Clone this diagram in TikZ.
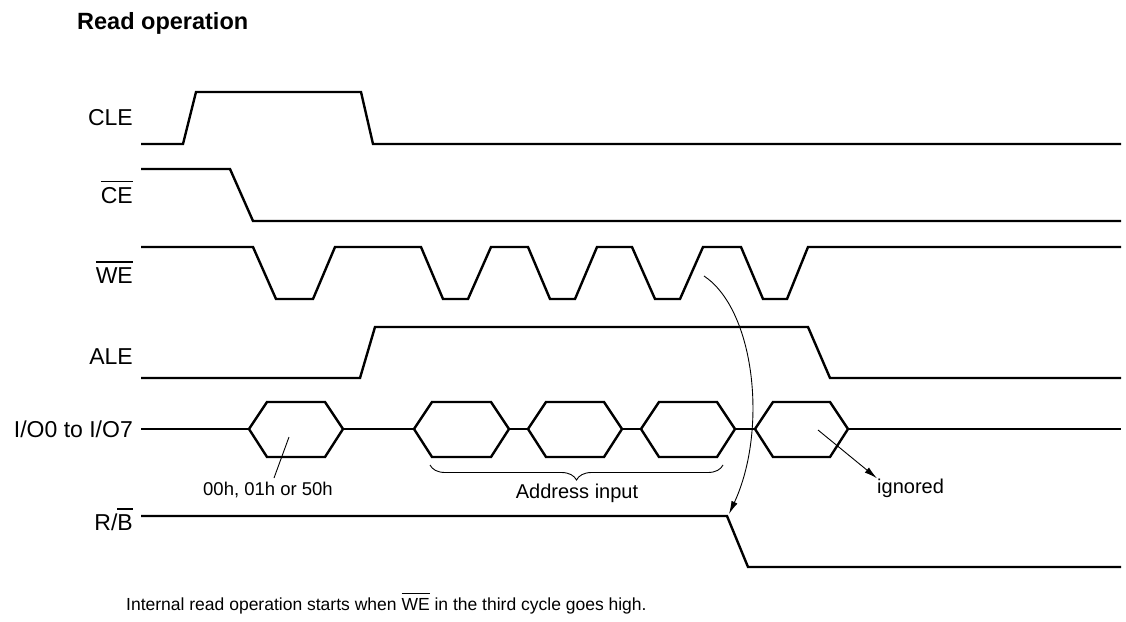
\documentclass[tikz,border=0pt]{standalone}
\usepackage{fontspec}
\setmainfont{Liberation Sans}
\usetikzlibrary{decorations.pathreplacing,arrows.meta}
\newcommand\barred[2][4.5pt]{\vbox{\hrule height 1.3pt\kern #1\hbox{#2}}}
\begin{document}
\begin{tikzpicture}[x=1pt,y=-1pt,
  sig/.style={line width=2.4pt, line join=miter},
  ann/.style={line width=0.9pt},
  tip/.style={-{Latex[length=13pt,width=6.5pt]}},
  lbl/.style={font=\fontsize{23}{27}\selectfont, anchor=base east, inner sep=0pt},
  note/.style={font=\fontsize{20}{24}\selectfont, inner sep=0pt}]
\useasboundingbox (0,0) rectangle (1126,621);

% title
\node[anchor=base west, inner sep=0pt, font=\fontsize{23.5}{28}\selectfont\bfseries] (title) at (77,29) {Read operation};

% signal labels
\node[lbl] (lcle) at (133,125) {CLE};
\node[lbl] (lce)  at (133,203) {\barred{CE}};
\node[lbl] (lwe)  at (133,283) {\barred{WE}};
\node[lbl] (lale) at (133,364) {ALE};
\node[lbl] (lio)  at (133,437) {I/O0 to I/O7};
\node[lbl] (lrb)  at (133,530) {R/\barred{B}};

% CLE
\draw[sig] (141,144) -- (183,144) -- (196,92) -- (361,92) -- (373,144) -- (1121,144);
% CE
\draw[sig] (141,169) -- (230,169) -- (253,221) -- (1121,221);
% WE
\draw[sig] (141,247) -- (253,247) -- (276,299) -- (313,299) -- (335,247)
  -- (421,247) -- (443,299) -- (468,299) -- (491,247)
  -- (528,247) -- (550,299) -- (575,299) -- (597,247)
  -- (632,247) -- (655,299) -- (680,299) -- (703,247)
  -- (741,247) -- (763,299) -- (787,299) -- (808,247) -- (1121,247);
% ALE
\draw[sig] (141,378) -- (360,378) -- (375,327) -- (808,327) -- (830,378) -- (1121,378);
% I/O bus
\draw[sig] (141,429) -- (249,429);
\draw[sig] (249,429) -- (267,402) -- (325,402) -- (343,429) -- (325,457) -- (267,457) -- cycle;
\draw[sig] (343,429) -- (414,429);
\draw[sig] (414,429) -- (432,402) -- (491,402) -- (509,429) -- (491,457) -- (432,457) -- cycle;
\draw[sig] (509,429) -- (528,429);
\draw[sig] (528,429) -- (546,402) -- (604,402) -- (622,429) -- (604,457) -- (546,457) -- cycle;
\draw[sig] (622,429) -- (641,429);
\draw[sig] (641,429) -- (659,402) -- (717,402) -- (735,429) -- (717,457) -- (659,457) -- cycle;
\draw[sig] (735,429) -- (755,429);
\draw[sig] (755,429) -- (773,402) -- (830,402) -- (848,429) -- (830,457) -- (773,457) -- cycle;
\draw[sig] (848,429) -- (1121,429);
% R/B
\draw[sig] (141,516) -- (727,516) -- (748,567) -- (1121,567);

% annotations
\coordinate (c0) at (289,437);
\node[note, anchor=north, font=\fontsize{18.5}{22}\selectfont] (cmd) at (268,482) {00h, 01h or 50h};
\draw[ann] (c0) -- (274,478);

\coordinate (bl) at (430,465);
\coordinate (br) at (723,465);
\draw[ann, decorate, decoration={brace, amplitude=15pt}] (br) -- (bl);
\node[note, anchor=north] (addr) at (577,484) {Address input};

\coordinate (ig0) at (818,430);
\node[note, anchor=base west] (ign) at (877,493) {ignored};
\draw[ann, tip] (ig0) -- (ign.north west);

\coordinate (ws) at (704,276);
\coordinate (rbc) at (729,514);
\draw[ann, tip] (ws) .. controls (755,310) and (768,430) .. (rbc);

\node[anchor=base west, inner sep=0pt, font=\fontsize{17.5}{21}\selectfont] (foot) at (126,610)
  {Internal read operation starts when \barred[3.5pt]{WE} in the third cycle goes high.};
\end{tikzpicture}
\end{document}
